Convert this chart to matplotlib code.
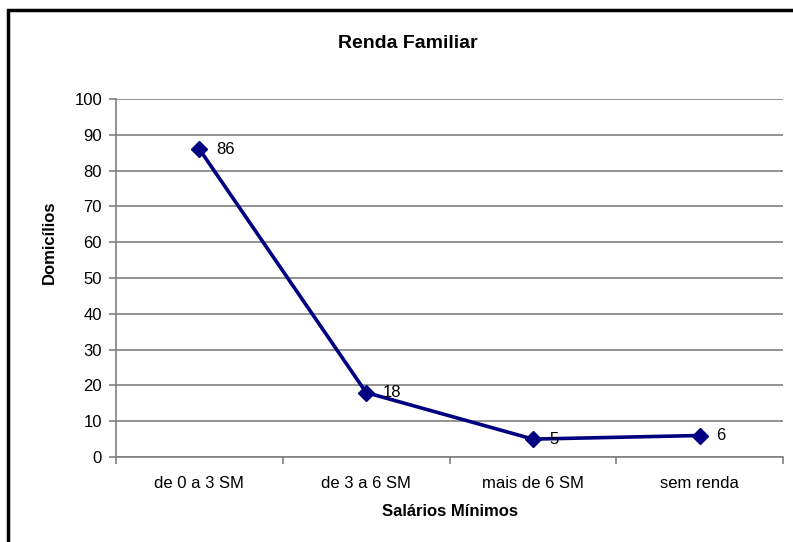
import numpy as np
import matplotlib.pyplot as plt
from matplotlib.patches import Rectangle

faixas = ['de 0 a 3 SM', 'de 3 a 6 SM', 'mais de 6 SM', 'sem renda']
domicilios = [86, 18, 5, 6]
yticks = list(range(0, 101, 10))

plt.rcParams['font.family'] = ['Liberation Sans', 'DejaVu Sans']

fig = plt.figure(figsize=(7.93, 5.42), dpi=100)
ax = fig.add_axes([116/793, 1 - 457/542, (783 - 116)/793, (457 - 99)/542])

x = np.arange(len(faixas))
ax.plot(x, domicilios, color='#000080', lw=2.6, marker='D', ms=8, zorder=3)
for xi, v in zip(x, domicilios):
    ax.annotate(str(v), (xi, v), xytext=(12, 0), textcoords='offset points',
                ha='left', va='center', fontsize=12)

ax.set_xlim(-0.5, len(faixas) - 0.5)
ax.set_ylim(0, 100)
ax.set_yticks(yticks)
ax.set_xticks(x)
ax.set_xticklabels(faixas, fontsize=12)
ax.set_xticks(np.arange(-0.5, len(faixas)), minor=True)
ax.tick_params(axis='x', which='major', length=0, pad=14)
ax.tick_params(axis='x', which='minor', length=5, color='#808080', width=1.2)
ax.tick_params(axis='y', length=5, color='#808080', width=1.2, labelsize=12, pad=5)
ax.yaxis.grid(True, color='#808080', lw=1.2)
ax.set_axisbelow(True)
for s in ['top', 'right']:
    ax.spines[s].set_visible(False)
for s in ['left', 'bottom']:
    ax.spines[s].set_color('#808080')
    ax.spines[s].set_linewidth(1.2)

ax.set_xlabel('Salários Mínimos', fontweight='bold', fontsize=12, labelpad=9)
fig.text(49/793, 1 - 242/542, 'Domicílios', rotation=90, ha='center', va='center',
         fontweight='bold', fontsize=12)
fig.text(408/793, 1 - 44/542, 'Renda Familiar', ha='center', va='center',
         fontweight='bold', fontsize=14)

# moldura do gráfico
fig.patches.append(Rectangle((8/793, -0.1), 1.0, 1 - 10/542 + 0.1,
                             transform=fig.transFigure, fill=False,
                             edgecolor='black', lw=2.5))

fig.savefig('out.png', dpi=100)
